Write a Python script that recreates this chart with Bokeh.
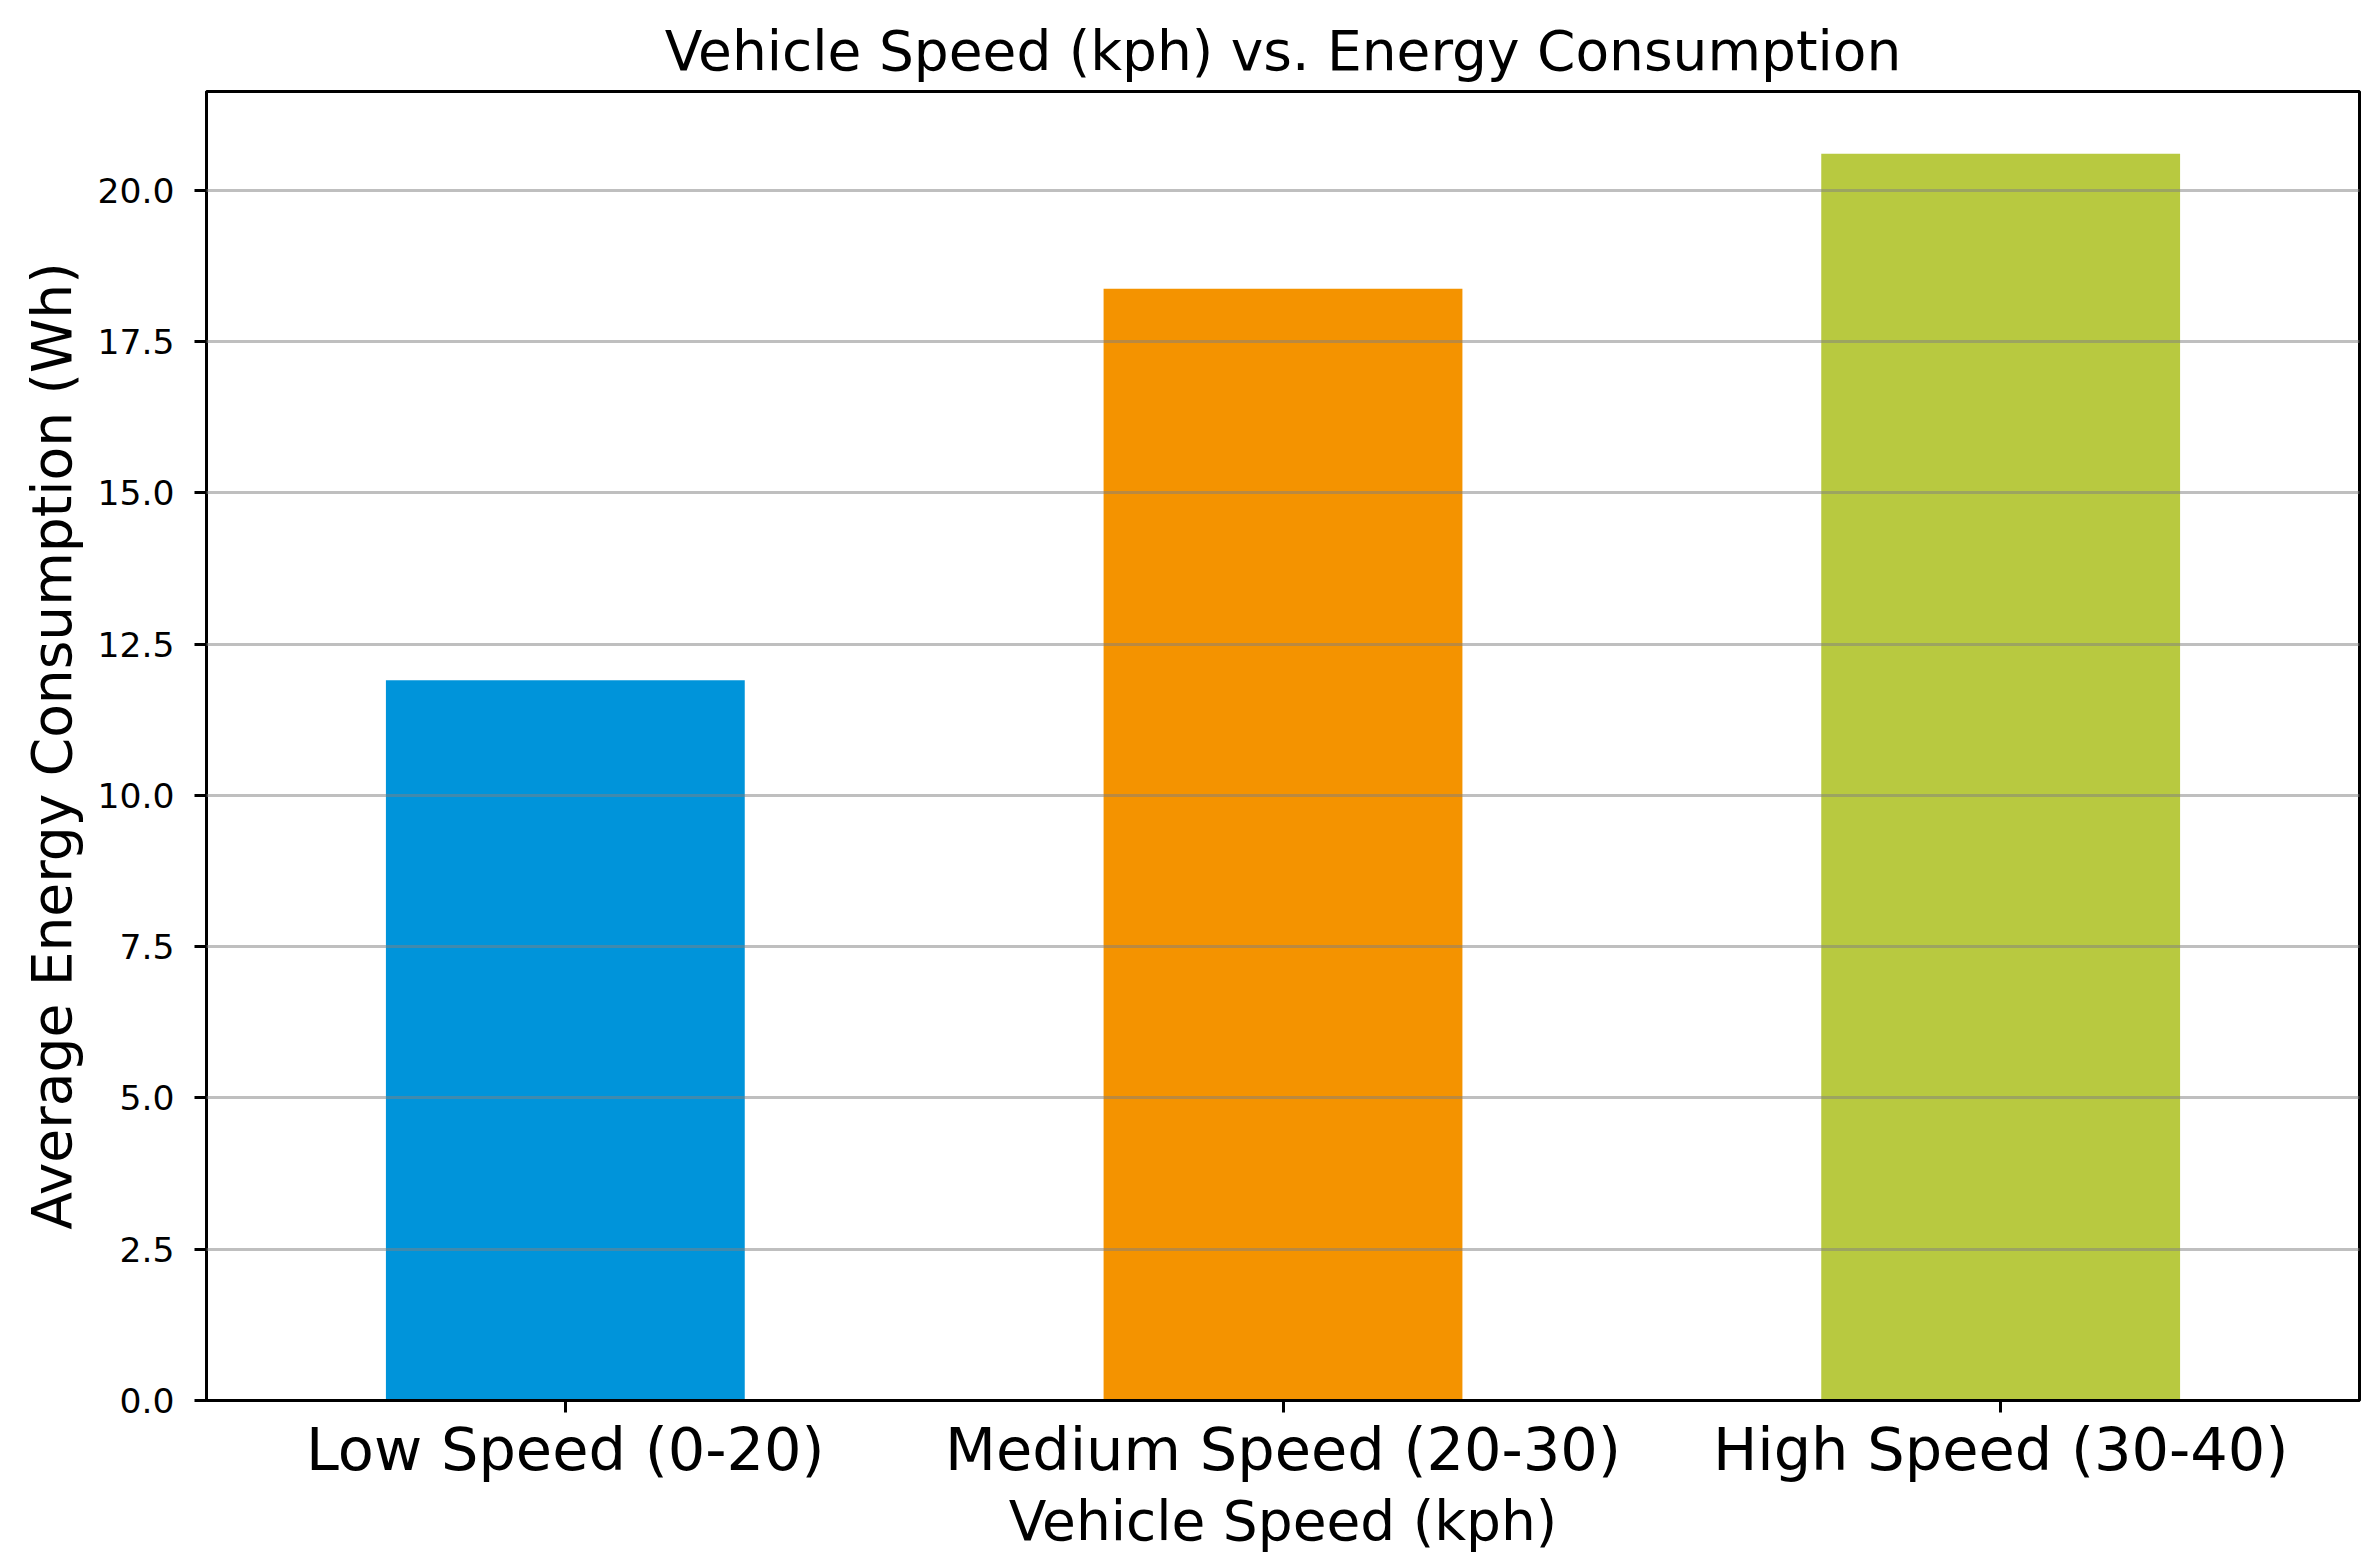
from bokeh.plotting import figure
from bokeh.models import FixedTicker, NumeralTickFormatter, Range1d
from bokeh.embed import file_html
from bokeh.resources import INLINE

categories = ["Low Speed (0-20)", "Medium Speed (20-30)", "High Speed (30-40)"]
energy_wh = [11.9, 18.37, 20.6]
bar_colors = ["#0094da", "#f49300", "#b8c940"]
y_ticks = [0.0, 2.5, 5.0, 7.5, 10.0, 12.5, 15.0, 17.5, 20.0]

FONT = "DejaVu Sans"

p = figure(x_range=categories, y_range=Range1d(0, 21.63),
           width=2363, height=1555,
           title="Vehicle Speed (kph) vs. Energy Consumption",
           output_backend="svg", toolbar_location=None,
           min_border_left=206, min_border_right=4,
           min_border_top=91, min_border_bottom=148)

p.vbar(x=categories, top=energy_wh, width=0.5, color=bar_colors, line_color=None)

# title
p.title.align = "center"
p.title.text_font = FONT
p.title.text_font_size = "55px"
p.title.text_font_style = "normal"
p.title.text_color = "black"
p.title.standoff = 17

# frame
p.outline_line_color = "black"
p.outline_line_width = 3
p.outline_line_alpha = 1.0
p.background_fill_color = "white"

# grid (matplotlib draws it over the bars)
p.xgrid.visible = False
p.ygrid.grid_line_color = "gray"
p.ygrid.grid_line_alpha = 0.5
p.ygrid.grid_line_width = 3
p.ygrid.level = "overlay"

for ax in (p.xaxis[0], p.yaxis[0]):
    ax.axis_line_color = "black"
    ax.axis_line_width = 3
    ax.major_tick_line_color = "black"
    ax.major_tick_line_width = 3
    ax.major_tick_out = 12
    ax.major_tick_in = 0
    ax.minor_tick_line_color = None
    ax.major_label_text_font = FONT
    ax.major_label_text_color = "black"
    ax.axis_label_text_font = FONT
    ax.axis_label_text_font_style = "normal"
    ax.axis_label_text_color = "black"
    ax.axis_label_text_font_size = "55px"

p.yaxis.ticker = FixedTicker(ticks=y_ticks)
p.yaxis.formatter = NumeralTickFormatter(format="0.0")
p.yaxis.major_label_text_font_size = "34.6px"
p.yaxis.major_label_standoff = 20
p.yaxis.axis_label = "Average Energy Consumption (Wh)"
p.yaxis.axis_label_standoff = 11

p.xaxis.major_label_text_font_size = "59px"
p.xaxis.major_label_standoff = 2
p.xaxis.axis_label = "Vehicle Speed (kph)"
p.xaxis.axis_label_standoff = 2

open("out.html", "w").write(file_html(p, INLINE))
